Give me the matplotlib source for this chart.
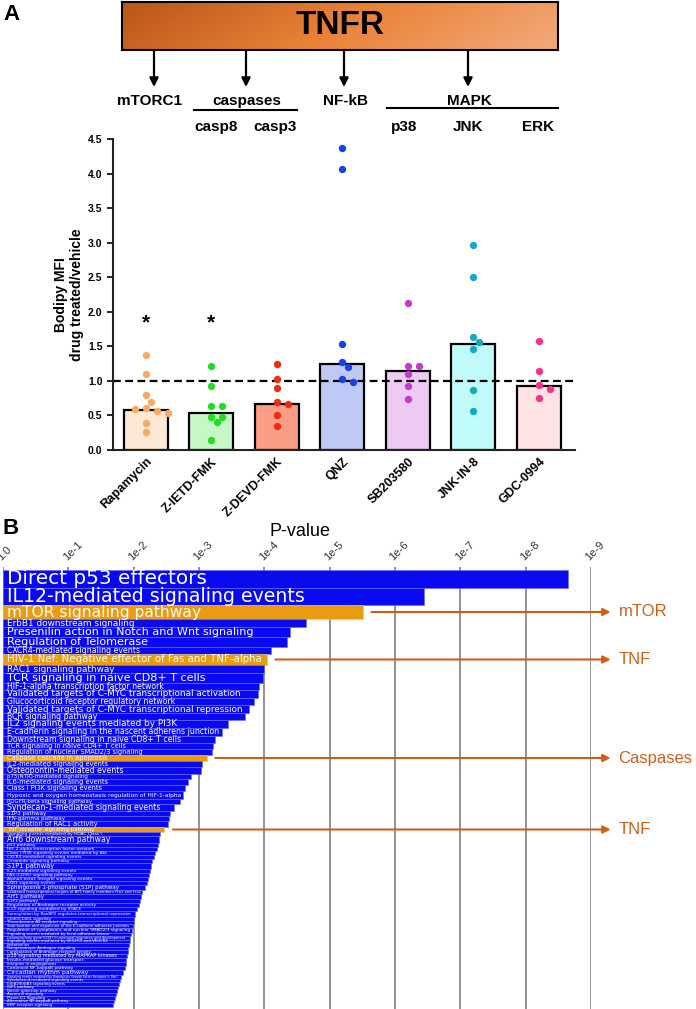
import numpy as np
import matplotlib.pyplot as plt
from matplotlib.colors import LinearSegmentedColormap

plt.rcParams['font.family'] = ['Liberation Sans', 'DejaVu Sans']

# ---------------- panel A data ----------------
drugs = ['Rapamycin', 'Z-IETD-FMK', 'Z-DEVD-FMK', 'QNZ', 'SB203580', 'JNK-IN-8', 'GDC-0994']
bar_means = [0.58, 0.54, 0.67, 1.25, 1.14, 1.54, 0.93]
rapamycin = [1.38, 1.10, 0.79, 0.69, 0.61, 0.57, 0.59, 0.53, 0.39, 0.26]
z_ietd = [1.22, 0.92, 0.64, 0.64, 0.48, 0.48, 0.41, 0.14]
z_devd = [1.25, 1.03, 0.89, 0.69, 0.66, 0.51, 0.35]
qnz = [4.37, 4.06, 1.54, 1.27, 1.20, 1.03, 0.99]
sb203580 = [2.13, 1.22, 1.22, 1.10, 0.93, 0.74]
jnk_in_8 = [2.96, 2.50, 1.64, 1.56, 1.46, 0.87, 0.57]
gdc_0994 = [1.58, 1.15, 0.94, 0.88, 0.75]
groups = [rapamycin, z_ietd, z_devd, qnz, sb203580, jnk_in_8, gdc_0994]
significant = ['Rapamycin', 'Z-IETD-FMK']
star_level = 1.84

bar_fill = ['#fde8d6', '#c6f7c6', '#fb9c84', '#bfc9f6', '#eccaf3', '#c0fbf9', '#fde3e3']
dot_colors = ['#f8aa62', '#20de20', '#ef2b12', '#1443e6', '#c53ccc', '#17a9c2', '#f2338c']

# ---------------- panel B data ----------------
pathways = [
    'Direct p53 effectors',
    'IL12-mediated signaling events',
    'mTOR signaling pathway',
    'ErbB1 downstream signaling',
    'Presenilin action in Notch and Wnt signaling',
    'Regulation of Telomerase',
    'CXCR4-mediated signaling events',
    'HIV-1 Nef: Negative effector of Fas and TNF-alpha',
    'RAC1 signaling pathway',
    'TCR signaling in naive CD8+ T cells',
    'HIF-1-alpha transcription factor network',
    'Validated targets of C-MYC transcriptional activation',
    'Glucocorticoid receptor regulatory network',
    'Validated targets of C-MYC transcriptional repression',
    'BCR signaling pathway',
    'IL2 signaling events mediated by PI3K',
    'E-cadherin signaling in the nascent adherens junction',
    'Downstream signaling in naive CD8+ T cells',
    'TCR signaling in naive CD4+ T cells',
    'Regulation of nuclear SMAD2/3 signaling',
    'Caspase cascade in apoptosis',
    'IL2-mediated signaling events',
    'Osteopontin-mediated events',
    'p75(NTR)-mediated signaling',
    'IL6-mediated signaling events',
    'Class I PI3K signaling events',
    'Hypoxic and oxygen homeostasis regulation of HIF-1-alpha',
    'PDGFR-beta signaling pathway',
    'Syndecan-1-mediated signaling events',
    'S1P3 pathway',
    'IFN-gamma pathway',
    'Regulation of RAC1 activity',
    'TNF receptor signaling pathway',
    'Signaling events mediated by HDAC Class I',
    'Arf6 downstream pathway',
    'p53 pathway',
    'HIF-2-alpha transcription factor network',
    'Class I PI3K signaling events mediated by Akt',
    'CXCR3-mediated signaling events',
    'Ceramide signaling pathway',
    'S1P1 pathway',
    'IL23-mediated signaling events',
    'FAS (CD95) signaling pathway',
    'Alpha4 beta1 integrin signaling events',
    'LKB1 signaling events',
    'Sphingosine 1-phosphate (S1P) pathway',
    'Validated transcriptional targets of AP1 family members Fra1 and Fra2',
    'Arf1 pathway',
    'S1P2 pathway',
    'Regulation of Androgen receptor activity',
    'IL12 signaling mediated by STAT4',
    'Sumoylation by RanBP2 regulates transcriptional repression',
    'CD40/CD40L signaling',
    'Thromboxane A2 receptor signaling',
    'Stabilization and expansion of the E-cadherin adherens junction',
    'Regulation of cytoplasmic and nuclear SMAD2/3 signaling',
    'Signaling events mediated by focal adhesion kinase',
    'Lissencephaly gene (LIS1) in neuronal migration and development',
    'Signaling events mediated by VEGFR1 and VEGFR2',
    'Endothelins',
    'Nongenotropic Androgen signaling',
    'Coregulation of Androgen receptor activity',
    'p38 signaling mediated by MAPKAP kinases',
    'Insulin-mediated glucose transport',
    'Integrins in angiogenesis',
    'Canonical NF-kappaB pathway',
    'Circadian rhythm pathway',
    'Signaling events mediated by Hepatocyte Growth Factor Receptor (c-Met)',
    'Syndecan-4-mediated signaling events',
    'ErbB2/ErbB3 signaling events',
    'IGF1 pathway',
    'Nectin adhesion pathway',
    'Aurora B signaling',
    'Plexin-D1 Signaling',
    'Alternative NF-kappaB pathway',
    'BMP receptor signaling',
]
neg_log10_p = [
    8.65, 6.45, 5.51, 4.64, 4.40, 4.35, 4.10, 4.04, 4.00, 3.98,
    3.92, 3.91, 3.84, 3.77, 3.71, 3.45, 3.35, 3.25, 3.22, 3.20,
    3.12, 3.04, 3.03, 2.88, 2.83, 2.79, 2.76, 2.71, 2.62, 2.56,
    2.54, 2.53, 2.47, 2.40, 2.39, 2.37, 2.36, 2.33, 2.31, 2.28,
    2.27, 2.25, 2.24, 2.22, 2.20, 2.17, 2.13, 2.11, 2.10, 2.08,
    2.05, 2.02, 2.01, 2.00, 1.99, 1.98, 1.96, 1.95, 1.94, 1.93,
    1.92, 1.91, 1.90, 1.89, 1.88, 1.86, 1.84, 1.81, 1.79, 1.77,
    1.76, 1.74, 1.73, 1.71, 1.70, 1.69,
]
row_weight = [
    18, 17, 14, 8, 10, 10, 7, 11, 8, 10, 7, 8,
    7, 8, 7, 8, 8, 7, 6, 6, 6, 6, 7, 5, 6, 6, 8, 5, 7, 5, 5, 6, 5, 4, 7,
    4, 4, 4, 4, 4, 6, 4, 4, 4, 4,
    5, 4, 5, 4, 4, 4, 6,
    3.5, 3.5, 3.5, 5,
    3.5, 3.5, 3.5, 3.5, 3.5, 3.5,
    4.5, 4, 3.5, 4, 5.5,
    3.5, 3.5, 3.5, 3.5, 3.5, 3.5, 3.5, 3.5, 3.5,
]
highlighted = ['mTOR signaling pathway',
               'HIV-1 Nef: Negative effector of Fas and TNF-alpha',
               'Caspase cascade in apoptosis',
               'TNF receptor signaling pathway']
highlight_tags = ['mTOR', 'TNF', 'Caspases', 'TNF']
decade_labels = ['1.0'] + ['1e-%d' % k for k in range(1, 10)]

W, H = 696, 1009
fig = plt.figure(figsize=(W / 100, H / 100), dpi=100)


def rect(left, top, right, bottom):
    return [left / W, 1 - bottom / H, (right - left) / W, (bottom - top) / H]


def swarm(values, px_x=66.0, px_y=68.9, size=7.0, step=5.5):
    placed = []
    offsets = []
    cands = [0.0]
    for i in range(1, 10):
        cands += [i * step, -i * step]
    for v in values:
        for c in cands:
            if all((c - ox) ** 2 + ((v - oy) * px_y) ** 2 >= size ** 2 for ox, oy in placed):
                break
        placed.append((c, v))
        offsets.append(c / px_x)
    return np.array(offsets)


# ---------------- diagram overlay (TNFR box, arrows) ----------------
ov = fig.add_axes([0, 0, 1, 1])
ov.set_xlim(0, W)
ov.set_ylim(H, 0)
ov.axis('off')

box = fig.add_axes(rect(122, 2, 558, 50))
gx, gy = np.meshgrid(np.linspace(0, 1, 300), np.linspace(0, 1, 30))
grad = 0.85 * gx + 0.15 * gy
cmap = LinearSegmentedColormap.from_list('tnfr', ['#bb551b', '#ea8236', '#f2aa7c'])
box.imshow(grad, cmap=cmap, aspect='auto', extent=[0, 1, 1, 0])
box.set_xticks([])
box.set_yticks([])
for s in box.spines.values():
    s.set_linewidth(1.5)
box.text(0.5, 0.5, 'TNFR', ha='center', va='center', fontsize=24, fontweight='bold',
         transform=box.transAxes)

for ax_x in [154, 246, 344, 468]:
    ov.annotate('', xy=(ax_x, 87), xytext=(ax_x, 50),
                arrowprops=dict(arrowstyle='-|>', color='black', lw=1.6, mutation_scale=13,
                                shrinkA=0, shrinkB=0))

lab = dict(ha='center', va='center', fontsize=11, fontweight='bold')
ov.text(150, 101, 'mTORC1', **lab)
ov.text(247, 101, 'caspases', **lab)
ov.text(345, 101, 'NF-kB', **lab)
ov.text(469, 101, 'MAPK', **lab)
ov.plot([194, 297], [110, 110], color='black', lw=1.5)
ov.plot([387, 558], [108, 108], color='black', lw=1.5)
ov.text(216, 127, 'casp8', **lab)
ov.text(275, 127, 'casp3', **lab)
ov.text(404, 127, 'p38', **lab)
ov.text(468, 127, 'JNK', **lab)
ov.text(538, 127, 'ERK', **lab)
ov.text(12, 14, 'A', ha='center', va='center', fontsize=16, fontweight='bold')
ov.text(11, 528, 'B', ha='center', va='center', fontsize=16, fontweight='bold')

# ---------------- panel A bar + dots ----------------
axa = fig.add_axes(rect(113, 139, 575, 450))
x = np.arange(len(drugs))
axa.bar(x, bar_means, width=0.67, color=bar_fill, edgecolor='black', linewidth=1.6, zorder=2)
axa.axhline(1.0, color='black', lw=1.6, ls=(0, (3.5, 2)), zorder=2.5)
for i, vals in enumerate(groups):
    axa.scatter(x[i] + swarm(vals), vals, s=28, color=dot_colors[i], linewidths=0, zorder=3)
for name in significant:
    axa.text(drugs.index(name), star_level, '*', ha='center', va='center',
             fontsize=15, fontweight='bold')

axa.set_xlim(-0.5, 6.55)
axa.set_ylim(0, 4.5)
axa.set_yticks(np.arange(0, 4.51, 0.5))
axa.set_yticklabels(['%.1f' % v for v in np.arange(0, 4.51, 0.5)], fontsize=7.5, fontweight='bold')
axa.set_xticks(x)
axa.set_xticklabels(drugs, rotation=45, ha='right', rotation_mode='anchor',
                    fontsize=9, fontweight='bold')
axa.tick_params(axis='x', length=0, pad=4)
axa.tick_params(axis='y', length=4, width=1.2)
for side in ['top', 'right']:
    axa.spines[side].set_visible(False)
for side in ['left', 'bottom']:
    axa.spines[side].set_linewidth(1.5)
    axa.spines[side].set_color('#222222')
axa.text(-0.095, 0.5, 'Bodipy MFI\ndrug treated/vehicle', transform=axa.transAxes,
         rotation=90, ha='center', va='center', fontsize=10, fontweight='bold',
         multialignment='center')

# ---------------- panel B enrichment bars ----------------
axb = fig.add_axes(rect(3, 567, 591, 1009))
heights = np.array(row_weight, dtype=float)
tops = 3 + np.concatenate([[0], np.cumsum(heights[:-1])])
centers = tops + heights / 2
colors = ['#e99b12' if p in highlighted else '#0a0af2' for p in pathways]
edges = ['#f3c66a' if p in highlighted else '#6a6af7' for p in pathways]
axb.barh(centers, neg_log10_p, height=heights, color=colors, edgecolor=edges,
         linewidth=0.4, zorder=2)
axb.set_xlim(0, 9)
axb.set_ylim(H - 567, 0)

# bar labels: size follows row height, shrunk when the name would run past the bar
renderer = fig.canvas.get_renderer()
px_per_unit = (591 - 3) / 9.0
for name, c, h, v in zip(pathways, centers, heights, neg_log10_p):
    fs = 0.8 * h
    t = axb.text(0.06, c, name, color='white', fontsize=fs, va='center', ha='left',
                 family='DejaVu Sans', zorder=3, clip_on=True)
    avail = v * px_per_unit - 0.06 * px_per_unit - 4
    wpx = t.get_window_extent(renderer).width
    if wpx > avail:
        t.set_fontsize(fs * avail / wpx)

arrow_col = '#cf5f18'
for name, tag in zip(highlighted, highlight_tags):
    i = pathways.index(name)
    axb.annotate('', xy=(9.3, centers[i]), xytext=(neg_log10_p[i] + 0.13, centers[i]),
                 arrowprops=dict(arrowstyle='-|>', color=arrow_col, lw=1.5, mutation_scale=11,
                                 shrinkA=0, shrinkB=0),
                 annotation_clip=False)
    axb.text(9.42, centers[i], tag, color=arrow_col, fontsize=12, va='center', ha='left',
             clip_on=False)

axb.set_xticks(range(10))
axb.xaxis.tick_top()
axb.set_xticklabels(decade_labels, rotation=45, ha='left', rotation_mode='anchor',
                    fontsize=8, color='#333333')
axb.tick_params(axis='x', length=0, pad=3)
axb.set_yticks([])
axb.grid(axis='x', color='#8a8a8a', lw=1.3, zorder=0)
axb.set_axisbelow(True)
for s in axb.spines.values():
    s.set_visible(False)
fig.text(300 / W, 1 - 531 / H, 'P-value', ha='center', va='center', fontsize=13)

fig.savefig('out.png', dpi=100)
